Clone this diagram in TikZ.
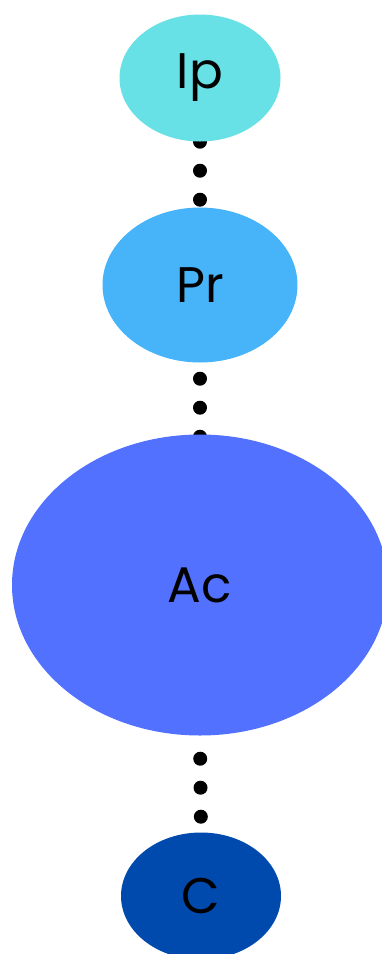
\documentclass[tikz,border=0pt]{standalone}
\usepackage{fontspec}
\setmainfont{Poppins}
\usepackage{xcolor}
\usetikzlibrary{shapes.geometric, backgrounds}
\definecolor{ipcol}{HTML}{67E0E6}
\definecolor{prcol}{HTML}{47B4F9}
\definecolor{accol}{HTML}{5271FF}
\definecolor{ccol}{HTML}{004AAD}
\tikzstyle{stage} = [ellipse, inner sep = 0pt, text = black, font = \fontsize{50}{60}\selectfont]
\tikzstyle{dotline} = [line width = 14pt, line cap = round, dash pattern = on 0pt off 29pt]

\begin{document}
\begin{tikzpicture}[x = 1pt, y = -1pt]
            \clip (0, 0) rectangle (382, 954);
            \node (Ip) at (200, 78) [stage, fill = ipcol, minimum width = 161pt, minimum height = 127pt] {Ip};
            \node (Pr) at (200, 285) [stage, fill = prcol, minimum width = 195pt, minimum height = 155pt] {Pr};
            \node (Ac) at (200, 585) [stage, fill = accol, minimum width = 376pt, minimum height = 301pt] {Ac};
            \node (C) at (201, 896) [stage, fill = ccol, minimum width = 160pt, minimum height = 127pt] {C};
            \begin{pgfonlayer}{background}
            \draw [dotline] (Ip.south) -- (Pr.north);
            \draw [dotline, dash phase = 13pt] (Pr.south) -- (Ac.center);
            \draw [dotline, dash phase = 6pt] (Ac.south) -- (C.north);
            \end{pgfonlayer}
        \end{tikzpicture}
\end{document}
